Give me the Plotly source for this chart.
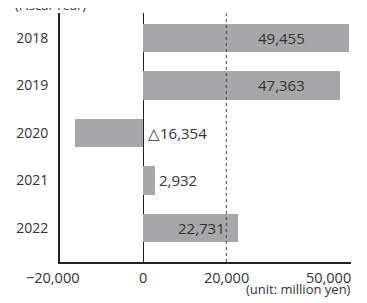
import plotly.graph_objects as go

years = ["2018", "2019", "2020", "2021", "2022"]
profit = [49455, 47363, -16354, 2932, 22731]
value_labels = ["49,455", "47,363", "△16,354", "2,932", "22,731"]
tick_vals = [-20000, 0, 20000, 50000]
tick_text = ["−20,000", "0", "20,000", "50,000"]

FONT = "Open Sans"
TXT = "#333333"
BAR = "#a7a7aa"

# label anchor positions (data units) and anchors
label_x = [39400, 39400, 700, 3360, 20200]
label_anchor = ["right", "right", "left", "left", "right"]

fig = go.Figure()
fig.add_trace(go.Bar(
    y=years, x=profit, orientation="h", width=0.59,
    marker=dict(color=BAR, line=dict(width=0)),
    hoverinfo="skip",
))

annotations = []
for i, (lx, anc, txt) in enumerate(zip(label_x, label_anchor, value_labels)):
    annotations.append(dict(
        x=lx, y=i, xref="x", yref="y", text=txt, showarrow=False,
        xanchor=anc, yanchor="middle",
        font=dict(family=FONT, size=15, color=TXT),
    ))

shifts = [-7.5, 0, 0, 2]
anchors = ["center", "center", "center", "right"]
for tv, tt, sh, an in zip(tick_vals, tick_text, shifts, anchors):
    annotations.append(dict(
        x=tv, y=0, xref="x", yref="paper", text=tt, showarrow=False,
        xanchor=an, yanchor="top", xshift=sh, yshift=-4,
        font=dict(family=FONT, size=14.5, color=TXT),
    ))

annotations.append(dict(
    x=1, y=0, xref="paper", yref="paper", text="(unit: million yen)",
    showarrow=False, xanchor="right", yanchor="top", yshift=-16, xshift=2,
    font=dict(family=FONT, size=13, color=TXT),
))
annotations.append(dict(
    x=0, y=1, xref="paper", yref="paper", text="(Fiscal Year)",
    showarrow=False, xanchor="left", yanchor="bottom", yshift=-3, xshift=-47,
    font=dict(family=FONT, size=13, color=TXT),
))

fig.update_layout(
    width=359, height=295,
    margin=dict(l=51.5, r=15.7, t=5, b=41, pad=0),
    paper_bgcolor="white", plot_bgcolor="white",
    showlegend=False,
    bargap=0,
    annotations=annotations,
    shapes=[dict(type="line", xref="x", yref="paper", x0=20000, x1=20000,
                 y0=0, y1=1, line=dict(color="#444444", width=1, dash="dot"))],
    xaxis=dict(range=[-20000, 50000], showgrid=False, showticklabels=False,
               ticks="", zeroline=True, zerolinecolor="#222222", zerolinewidth=1,
               showline=True, linecolor="#222222", linewidth=2, fixedrange=True),
    yaxis=dict(type="category", categoryorder="array", categoryarray=years,
               range=[4.716, -0.526], showgrid=False, ticks="",
               showline=True, linecolor="#222222", linewidth=2,
               tickfont=dict(family=FONT, size=14, color=TXT),
               ticklabelstandoff=7, fixedrange=True),
    font=dict(family=FONT, color=TXT),
)

fig.write_html("out.html", config=dict(displayModeBar=False))
